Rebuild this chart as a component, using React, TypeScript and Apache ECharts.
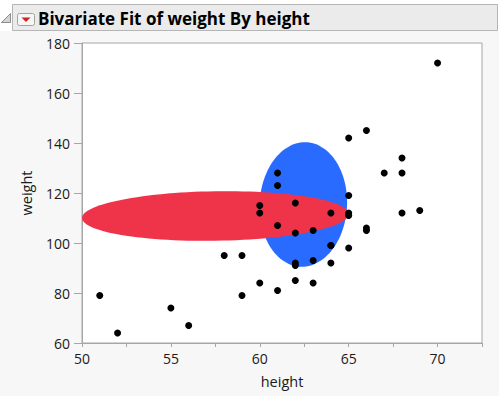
import React, { useEffect, useRef } from "react";
import * as echarts from "echarts";

// Big Class: height (x) and weight (y)
const heights = [59, 61, 55, 66, 52, 60, 61, 51, 60, 61, 56, 65, 63, 58, 59, 61, 62, 65, 63, 62, 63, 64, 65, 64, 68, 64, 69, 62, 64, 67, 65, 66, 62, 66, 65, 60, 68, 62, 68, 70];
const weights = [95, 123, 74, 145, 64, 84, 128, 79, 112, 107, 67, 98, 105, 95, 79, 81, 91, 142, 84, 85, 93, 99, 119, 92, 112, 99, 113, 92, 112, 128, 111, 105, 104, 106, 112, 115, 128, 116, 134, 172];

// Ellipses in data units: [centerX, centerY, radiusX, radiusY, skewX, skewY]
const ellipseNames = ["blue", "red"];
const ellipseCenterX = [62.45, 57.5];
const ellipseCenterY = [115.4, 110.8];
const ellipseRadiusX = [2.46, 7.5];
const ellipseRadiusY = [24.9, 9.9];
const ellipseSkewX = [0.09, 0];
const ellipseSkewY = [0, 0.8];
const ellipseColors = ["#2A6BFF", "#EF3349"];

const xTicks = [50, 55, 60, 65, 70];
const yTicks = [60, 80, 100, 120, 140, 160, 180];

const title = "Bivariate Fit of weight By height";
const FONT = "'Open Sans', 'DejaVu Sans', sans-serif";

export default function App() {
  const ref = useRef<HTMLDivElement>(null);
  useEffect(() => {
    if (!ref.current) return;
    const chart = echarts.init(ref.current, undefined, { renderer: "svg" });
    const points = heights.map((h, i) => [h, weights[i]]);
    const ellipseData = ellipseNames.map((_, i) => [
      ellipseCenterX[i], ellipseCenterY[i], ellipseRadiusX[i], ellipseRadiusY[i], ellipseSkewX[i], ellipseSkewY[i], i,
    ]);
    chart.setOption({
      animation: false,
      backgroundColor: "#f7f7f7",
      textStyle: { fontFamily: FONT },
      grid: {
        left: 82, top: 43, width: 400, height: 300,
        show: true, backgroundColor: "#ffffff", borderColor: "#a6a6a6", borderWidth: 1,
      },
      xAxis: {
        type: "value", min: 50, max: 72.5, interval: 2.5,
        name: "height", nameLocation: "middle", nameGap: 31,
        nameTextStyle: { fontSize: 14.5, color: "#1a1a1a", fontFamily: FONT },
        axisLine: { show: true, lineStyle: { color: "#a6a6a6" } },
        axisTick: { show: true, length: 4, lineStyle: { color: "#a6a6a6" } },
        splitLine: { show: false },
        axisLabel: {
          fontSize: 14, color: "#1a1a1a", margin: 8, fontFamily: FONT,
          formatter: (v: number) => (xTicks.includes(v) ? String(v) : ""),
        },
      },
      yAxis: {
        type: "value", min: 60, max: 180, interval: 20,
        name: "weight", nameLocation: "middle", nameGap: 48, nameRotate: 90,
        nameTextStyle: { fontSize: 14.5, color: "#1a1a1a", fontFamily: FONT },
        axisLine: { show: true, lineStyle: { color: "#a6a6a6" } },
        axisTick: { show: true, length: 8, lineStyle: { color: "#a6a6a6" } },
        splitLine: { show: false },
        axisLabel: {
          fontSize: 14, color: "#1a1a1a", margin: 12, fontFamily: FONT,
          formatter: (v: number) => (yTicks.includes(v) ? String(v) : ""),
        },
      },
      series: [
        {
          type: "custom",
          clip: true,
          data: ellipseData,
          z: 1,
          renderItem: (params: any, api: any) => {
            const cx = api.value(0), cy = api.value(1), rx = api.value(2), ry = api.value(3);
            const sx = api.value(4), sy = api.value(5), idx = api.value(6);
            const pts: number[][] = [];
            const n = 120;
            for (let k = 0; k < n; k++) {
              const t = (k / n) * Math.PI * 2;
              const x = cx + rx * Math.cos(t) + sx * Math.sin(t);
              const y = cy + ry * Math.sin(t) + sy * Math.cos(t);
              pts.push(api.coord([x, y]));
            }
            return {
              type: "polygon",
              shape: { points: pts },
              style: { fill: ellipseColors[idx], stroke: "none" },
            };
          },
        },
        {
          type: "scatter",
          data: points,
          symbol: "circle",
          symbolSize: 7,
          itemStyle: { color: "#000000", opacity: 1 },
          z: 5,
        },
      ],
      graphic: [
        { type: "rect", shape: { x: 0, y: 0, width: 499, height: 31 }, style: { fill: "#ffffff" }, z: 0, silent: true },
        { type: "rect", shape: { x: 12.5, y: 4.5, width: 485, height: 26 }, style: { fill: "#ebebeb", stroke: "#b5b5b5", lineWidth: 1 }, silent: true },
        { type: "polygon", shape: { points: [[1.5, 22.5], [10.5, 22.5], [10.5, 13.5]] }, style: { fill: "#d4d4d4", stroke: "#8c8c8c", lineWidth: 1 }, silent: true },
        { type: "rect", shape: { x: 17.5, y: 13.5, width: 17, height: 12, r: 2 }, style: { fill: "#f6f6f6", stroke: "#a3a3a3", lineWidth: 1 }, silent: true },
        { type: "polygon", shape: { points: [[21.5, 17.5], [30.5, 17.5], [26, 22]] }, style: { fill: "#d21f1f" }, silent: true },
        {
          type: "text", x: 38, y: 18.5, silent: true,
          style: { text: title, font: `bold 17px ${FONT}`, fill: "#000000", verticalAlign: "middle", align: "left" },
        },
      ],
    });
    return () => chart.dispose();
  }, []);
  return <div ref={ref} style={{ position: "fixed", left: 0, top: 0, width: 499, height: 396 }} />;
}
